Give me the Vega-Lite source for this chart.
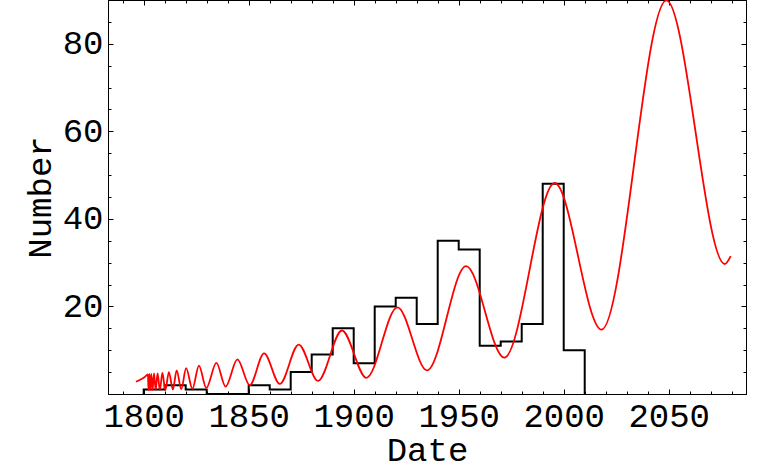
{
  "$schema": "https://vega.github.io/schema/vega-lite/v6.json",
  "width": 638,
  "height": 394,
  "autosize": "none",
  "padding": {"left": 108, "top": 0, "right": 18, "bottom": 78},
  "background": "white",
  "config": {
    "view": {"stroke": null},
    "font": "Liberation Mono",
    "axis": {
      "domainColor": "black", "domainWidth": 1, "tickColor": "black", "tickWidth": 1,
      "labelFont": "Liberation Mono", "labelFontSize": 34, "labelColor": "black",
      "titleFont": "Liberation Mono", "titleFontSize": 34, "titleFontWeight": "normal", "titleColor": "black",
      "grid": false
    }
  },
  "datasets": {
    "hist": [
      {"o": 0, "year": 1800, "count": 0},
      {"o": 1, "year": 1800, "count": 1},
      {"o": 2, "year": 1810, "count": 2},
      {"o": 3, "year": 1820, "count": 1},
      {"o": 4, "year": 1830, "count": 0},
      {"o": 5, "year": 1840, "count": 0},
      {"o": 6, "year": 1850, "count": 2},
      {"o": 7, "year": 1860, "count": 1},
      {"o": 8, "year": 1870, "count": 5},
      {"o": 9, "year": 1880, "count": 9},
      {"o": 10, "year": 1890, "count": 15},
      {"o": 11, "year": 1900, "count": 7},
      {"o": 12, "year": 1910, "count": 20},
      {"o": 13, "year": 1920, "count": 22},
      {"o": 14, "year": 1930, "count": 16},
      {"o": 15, "year": 1940, "count": 35},
      {"o": 16, "year": 1950, "count": 33},
      {"o": 17, "year": 1960, "count": 11},
      {"o": 18, "year": 1970, "count": 12},
      {"o": 19, "year": 1980, "count": 16},
      {"o": 20, "year": 1990, "count": 48},
      {"o": 21, "year": 2000, "count": 10},
      {"o": 22, "year": 2010, "count": 0}
    ],
    "fit": [
      {"year": 1796.3, "value": 2.8},
      {"year": 1798.5, "value": 3.3},
      {"year": 1800.5, "value": 3.9},
      {"year": 1802.0, "value": 4.5},
      {"year": 1802.3, "value": 0.9},
      {"year": 1802.7, "value": 4.6},
      {"year": 1803.1, "value": 0.9},
      {"year": 1803.6, "value": 4.6},
      {"year": 1804.2, "value": 0.9},
      {"year": 1804.9, "value": 4.7},
      {"year": 1805.7, "value": 0.9},
      {"year": 1806.6, "value": 4.7},
      {"year": 1807.7, "value": 0.9},
      {"year": 1808.9, "value": 4.8},
      {"year": 1810.3, "value": 0.9},
      {"year": 1812.0, "value": 5.0},
      {"year": 1813.9, "value": 1.0},
      {"year": 1815.7, "value": 5.4},
      {"year": 1817.9, "value": 1.1},
      {"year": 1820.2, "value": 5.9},
      {"year": 1823.2, "value": 1.2},
      {"year": 1826.3, "value": 6.5},
      {"year": 1829.8, "value": 1.4},
      {"year": 1834.6, "value": 7.1},
      {"year": 1839.0, "value": 1.7},
      {"year": 1844.6, "value": 7.9},
      {"year": 1850.5, "value": 2.0},
      {"year": 1857.3, "value": 9.3},
      {"year": 1864.8, "value": 2.3},
      {"year": 1873.8, "value": 11.3},
      {"year": 1883.0, "value": 3.0},
      {"year": 1894.4, "value": 14.5},
      {"year": 1906.0, "value": 3.7},
      {"year": 1920.8, "value": 19.8},
      {"year": 1934.9, "value": 5.4},
      {"year": 1953.5, "value": 29.2},
      {"year": 1971.7, "value": 8.3},
      {"year": 1995.7, "value": 48.2},
      {"year": 2018.0, "value": 14.7},
      {"year": 2048.9, "value": 89.9},
      {"year": 2076.7, "value": 29.7},
      {"year": 2079.5, "value": 31.5}
    ]
  },
  "resolve": {"axis": {"x": "independent", "y": "independent"}},
  "layer": [
    {
      "data": {"name": "hist"},
      "mark": {"type": "line", "interpolate": "step-after", "color": "black", "strokeWidth": 2, "clip": true},
      "encoding": {
        "x": {"field": "year", "type": "quantitative",
              "scale": {"domain": [1783, 2086.8], "zero": false, "nice": false},
              "axis": {"orient": "bottom", "values": [1800, 1850, 1900, 1950, 2000, 2050], "format": "d", "tickSize": -5, "labelPadding": 10, "title": "Date", "titlePadding": 0}},
        "y": {"field": "count", "type": "quantitative",
              "scale": {"domain": [0, 90], "zero": false, "nice": false},
              "axis": {"orient": "left", "values": [20, 40, 60, 80], "format": "d", "tickSize": -5, "labelPadding": 10, "title": "Number", "titlePadding": 5}},
        "order": {"field": "o", "type": "quantitative"}
      }
    },
    {
      "data": {"name": "fit"},
      "mark": {"type": "line", "interpolate": "monotone", "color": "#ff0000", "strokeWidth": 1.8, "clip": true},
      "encoding": {
        "x": {"field": "year", "type": "quantitative",
              "axis": {"orient": "top", "values": [1800, 1850, 1900, 1950, 2000, 2050], "tickSize": -5, "labels": false, "title": null}},
        "y": {"field": "value", "type": "quantitative",
              "axis": {"orient": "right", "values": [20, 40, 60, 80], "tickSize": -5, "labels": false, "title": null}}
      }
    },
    {
      "data": {"name": "hist"},
      "mark": {"type": "line", "strokeOpacity": 0},
      "encoding": {
        "x": {"field": "year", "type": "quantitative",
              "axis": {"orient": "bottom", "values": [1790, 1810, 1820, 1830, 1840, 1860, 1870, 1880, 1890, 1910, 1920, 1930, 1940, 1960, 1970, 1980, 1990, 2010, 2020, 2030, 2040, 2060, 2070, 2080], "tickSize": -3, "labels": false, "title": null}},
        "y": {"field": "count", "type": "quantitative",
              "axis": {"orient": "left", "values": [5, 10, 15, 25, 30, 35, 45, 50, 55, 65, 70, 75, 85], "tickSize": -3, "labels": false, "title": null}}
      }
    },
    {
      "data": {"name": "hist"},
      "mark": {"type": "line", "strokeOpacity": 0},
      "encoding": {
        "x": {"field": "year", "type": "quantitative",
              "axis": {"orient": "top", "values": [1790, 1810, 1820, 1830, 1840, 1860, 1870, 1880, 1890, 1910, 1920, 1930, 1940, 1960, 1970, 1980, 1990, 2010, 2020, 2030, 2040, 2060, 2070, 2080], "tickSize": -3, "labels": false, "title": null}},
        "y": {"field": "count", "type": "quantitative",
              "axis": {"orient": "right", "values": [5, 10, 15, 25, 30, 35, 45, 50, 55, 65, 70, 75, 85], "tickSize": -3, "labels": false, "title": null}}
      }
    }
  ]
}
